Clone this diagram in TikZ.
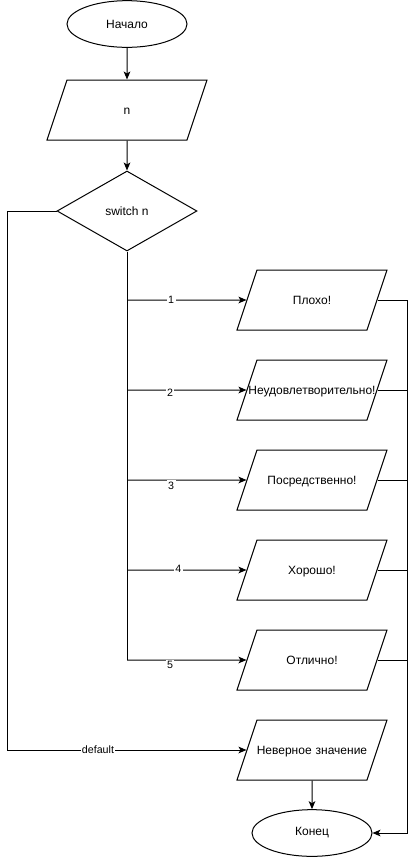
\documentclass[tikz,border=0pt]{standalone}
\usepackage{fontspec}
\setmainfont{Liberation Sans}
\usetikzlibrary{shapes.geometric, arrows.meta}

\begin{document}
\begin{tikzpicture}[
    x=0.75pt, y=-0.75pt,
    >={Stealth[length=6pt, width=5pt, inset=1.5pt]},
    line/.style={line width=0.75pt, draw=black},
    term/.style={line, ellipse, minimum width=90pt, minimum height=35pt, inner sep=0pt, font=\fontsize{9}{11}\selectfont},
    io/.style={line, trapezium, trapezium left angle=71.57, trapezium right angle=108.43,
               text width=#1, align=center, text height=25.7pt, text depth=19.3pt,
               inner sep=0pt, font=\fontsize{9}{11}\selectfont},
    io/.default=82.5pt,
    decision/.style={line, diamond, aspect=1.75, minimum width=105pt, minimum height=60pt, inner sep=0pt, font=\fontsize{9}{11}\selectfont},
    case/.style={font=\fontsize{8}{10}\selectfont, fill=white, inner sep=1pt},
]
\useasboundingbox (0,0) rectangle (416,861);

% ---- Начало и ввод ----
\node[term] (start) at (127,24) {Начало};
\node[io=90pt] (inp) at (127,110) {n};
\node[decision] (sw) at (127,211) {switch n};

% ---- Ветви ----
\foreach \i/\y/\txt in {1/300/Плохо!, 2/390/Неудовлетворительно!, 3/480/Посредственно!, 4/570/Хорошо!, 5/660/Отлично!} {
    \node[io] (p\i) at (312,\y) {\makebox[0pt]{\txt}};
    \coordinate (b\i) at (127,\y);
    \coordinate (r\i) at (407,\y);
}
\node[io] (err) at (312,750) {\makebox[0pt]{Неверное значение}};
\node[term] (end) at (312,833) {Конец};

\coordinate (lt) at (7,211);
\coordinate (rb) at (407,833);

% ---- Связи ----
\draw[line, ->] (start) -- (inp);
\draw[line, ->] (inp) -- (sw);
\draw[line] (sw.south) -- (b5);
\foreach \i/\ps/\dy in {1/.37/0, 2/.36/-2, 3/.37/-4, 4/.43/1, 5/.36/-4} {
    \draw[line, ->] (b\i) -- node[case, pos=\ps, yshift=\dy pt] {\i} (p\i);
    \draw[line] (p\i.right side) -- (r\i);
}
\draw[line, ->] (r1) -- (rb) -- (end);

% ---- default ----
\draw[line, ->] (sw.west) -- (lt) |- node[case, pos=.69] {default} (err);
\draw[line, ->] (err) -- (end);

\end{tikzpicture}
\end{document}
